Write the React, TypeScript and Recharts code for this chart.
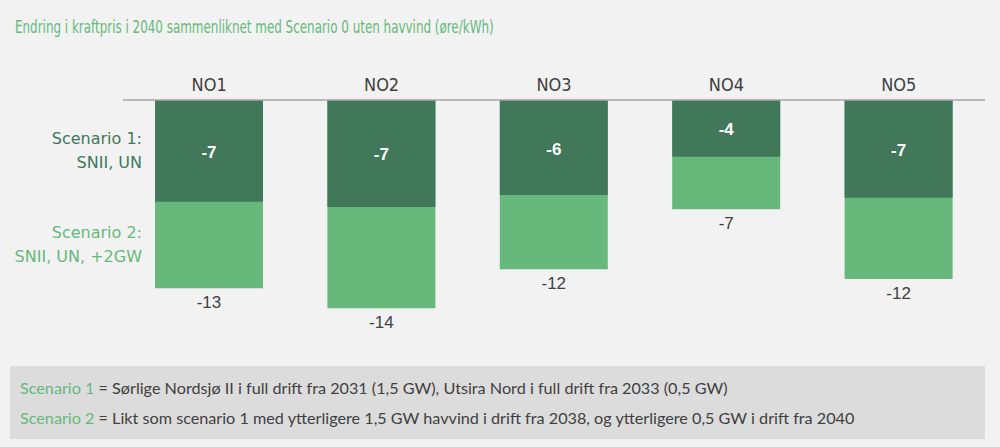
import React from 'react';
import { BarChart, Bar, XAxis, YAxis, LabelList } from 'recharts';

const categories = ['NO1', 'NO2', 'NO3', 'NO4', 'NO5'];
const scenario1 = [-6.93, -7.29, -6.48, -3.87, -6.66];
const scenario2 = [-12.84, -14.2, -11.54, -7.45, -12.2];

const titleText = 'Endring i kraftpris i 2040 sammenliknet med Scenario 0 uten havvind (øre/kWh)';
const note1Key = 'Scenario 1';
const note1Text = ' = Sørlige Nordsjø II i full drift fra 2031 (1,5 GW), Utsira Nord i full drift fra 2033 (0,5 GW)';
const note2Key = 'Scenario 2';
const note2Text = ' = Likt som scenario 1 med ytterligere 1,5 GW havvind i drift fra 2038, og ytterligere 0,5 GW i drift fra 2040';

const DARK = '#41785a';
const LIGHT = '#66b97b';
const TEXT = '#404040';
const BG = '#f2f2f2';

const data = categories.map((name, i) => ({ name, s1: scenario1[i], s2: scenario2[i] }));

const NARROW = "'Liberation Sans Narrow', 'DejaVu Sans Condensed', 'Roboto Condensed', 'Liberation Sans', sans-serif";
const WIDE = "'DejaVu Sans', Verdana, sans-serif";

const CenterLabel = (props: any) => {
  const { x, y, width, height, value } = props;
  const cy = Number(y) + Number(height) / 2;
  return (
    <text x={Number(x) + Number(width) / 2} y={cy + 7} textAnchor="middle" fill="#ffffff" fontSize={17} fontWeight={700} fontFamily="'Liberation Sans', sans-serif">
      {Math.round(Number(value))}
    </text>
  );
};

const BelowLabel = (props: any) => {
  const { x, y, width, height, value } = props;
  const bottom = Math.max(Number(y), Number(y) + Number(height));
  return (
    <text x={Number(x) + Number(width) / 2} y={bottom + 20} textAnchor="middle" fill={TEXT} fontSize={17} fontFamily="'Liberation Sans', sans-serif">
      {Math.round(Number(value))}
    </text>
  );
};

export default function App() {
  return (
    <div style={{ position: 'fixed', left: 0, top: 0, width: 1000, height: 447, background: BG, overflow: 'hidden' }}>
      <div style={{ position: 'absolute', left: 15, top: 16, fontFamily: NARROW, fontSize: 17, color: LIGHT, whiteSpace: 'nowrap', lineHeight: '22px', transform: 'scaleX(0.78)', transformOrigin: 'left center' }}>
        {titleText}
      </div>
      <div style={{ position: 'absolute', left: 0, top: 0 }}>
        <BarChart width={1000} height={447} data={data} margin={{ top: 70, right: 15, bottom: 83, left: 123 }} barGap={-108}>
          <XAxis
            dataKey="name"
            orientation="top"
            height={30}
            interval={0}
            axisLine={{ stroke: '#a6a6a6', strokeWidth: 1.5 }}
            tickLine={false}
            tickMargin={3}
            tick={{ fill: TEXT, fontSize: 18, fontFamily: NARROW }}
          />
          <YAxis hide domain={[-18, 0]} />
          <Bar dataKey="s2" fill={LIGHT} barSize={108} isAnimationActive={false}>
            <LabelList dataKey="s2" content={BelowLabel} />
          </Bar>
          <Bar dataKey="s1" fill={DARK} barSize={108} isAnimationActive={false}>
            <LabelList dataKey="s1" content={CenterLabel} />
          </Bar>
        </BarChart>
      </div>
      <div style={{ position: 'absolute', right: 1000 - 142, top: 127, textAlign: 'right', fontFamily: WIDE, fontSize: 16, color: DARK, lineHeight: '24px' }}>
        Scenario 1:<br />SNII, UN
      </div>
      <div style={{ position: 'absolute', right: 1000 - 142, top: 221, textAlign: 'right', fontFamily: WIDE, fontSize: 16, color: LIGHT, lineHeight: '24px', whiteSpace: 'nowrap' }}>
        Scenario 2:<br />SNII, UN, +2GW
      </div>
      <div style={{ position: 'absolute', left: 10, top: 366, width: 975, height: 73, background: '#dcdcdc', fontFamily: 'Lato, sans-serif', fontSize: 16.2, color: TEXT, whiteSpace: 'nowrap' }}>
        <div style={{ position: 'absolute', left: 10, top: 12, lineHeight: '20px' }}>
          <span style={{ color: LIGHT }}>{note1Key}</span>{note1Text}
        </div>
        <div style={{ position: 'absolute', left: 10, top: 42, lineHeight: '20px' }}>
          <span style={{ color: LIGHT }}>{note2Key}</span>{note2Text}
        </div>
      </div>
    </div>
  );
}
